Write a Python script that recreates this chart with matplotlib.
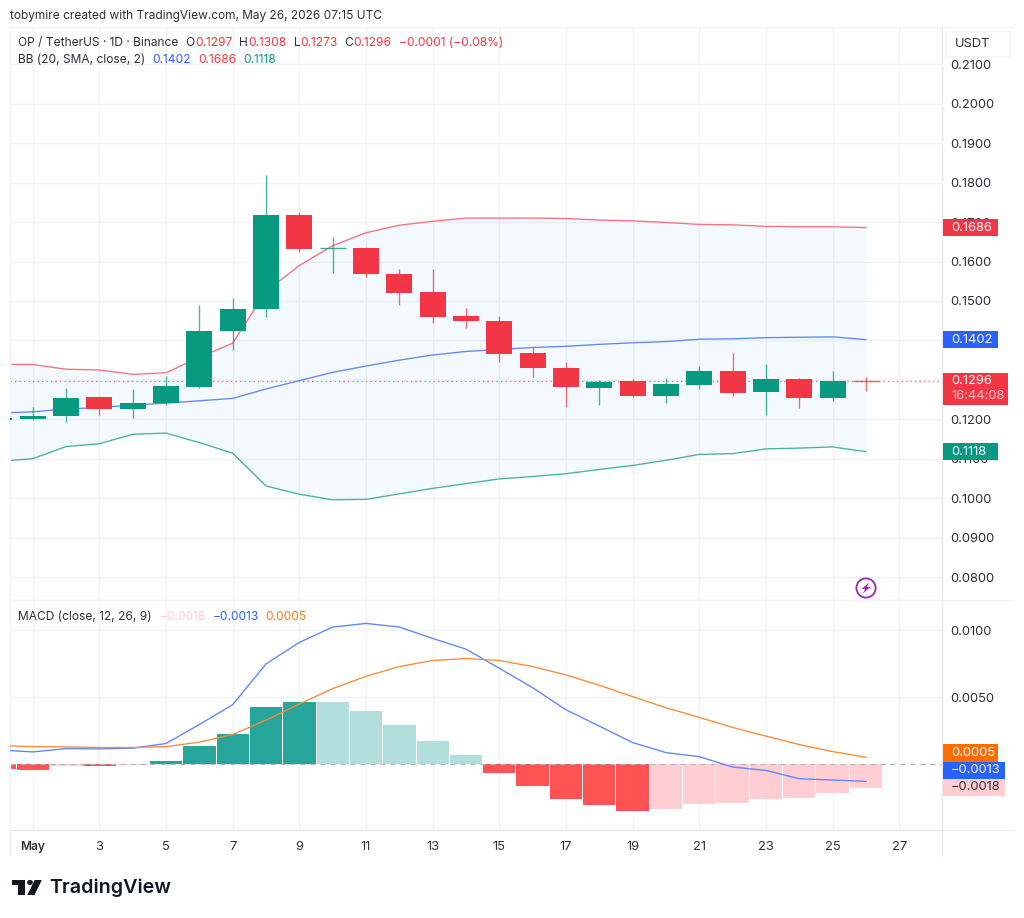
import matplotlib
matplotlib.use("Agg")
import matplotlib.pyplot as plt
from matplotlib.patches import Circle, FancyBboxPatch, Polygon, Rectangle

plt.rcParams["font.family"] = ["Inter", "DejaVu Sans"]

GREEN = "#089981"
RED = "#F23645"
BLUE = "#2962FF"
ORANGE = "#FF6D00"
GRID = "#F1F2F5"
EDGE = "#E6E8EE"
TEXT = "#2E3038"

days = list(range(0, 27))
opens = [0.1197, 0.1202, 0.1208, 0.1256, 0.1227, 0.1241, 0.1283, 0.1423, 0.1480, 0.1718,
         0.1632, 0.1634, 0.1569, 0.1522, 0.1461, 0.1448, 0.1367, 0.1330, 0.1280, 0.1296,
         0.1259, 0.1288, 0.1323, 0.1268, 0.1303, 0.1255, 0.1297]
highs = [0.1205, 0.1232, 0.1279, 0.1256, 0.1277, 0.1310, 0.1490, 0.1507, 0.1819, 0.1725,
         0.1662, 0.1636, 0.1580, 0.1580, 0.1483, 0.1462, 0.1383, 0.1345, 0.1299, 0.1301,
         0.1305, 0.1336, 0.1368, 0.1340, 0.1305, 0.1323, 0.1308]
lows = [0.1190, 0.1198, 0.1192, 0.1210, 0.1203, 0.1236, 0.1279, 0.1376, 0.1459, 0.1625,
        0.1572, 0.1561, 0.1490, 0.1443, 0.1432, 0.1346, 0.1307, 0.1230, 0.1237, 0.1257,
        0.1242, 0.1277, 0.1258, 0.1211, 0.1228, 0.1247, 0.1273]
closes = [0.1203, 0.1209, 0.1255, 0.1227, 0.1241, 0.1284, 0.1424, 0.1480, 0.1718, 0.1632,
          0.1634, 0.1568, 0.1519, 0.1460, 0.1448, 0.1366, 0.1330, 0.1282, 0.1295, 0.1259,
          0.1290, 0.1323, 0.1267, 0.1303, 0.1255, 0.1296, 0.1296]

bb_upper = [0.1339, 0.1339, 0.1327, 0.1325, 0.1314, 0.1318, 0.1357, 0.1393, 0.1524, 0.1590,
            0.1640, 0.1673, 0.1692, 0.1702, 0.1710, 0.1710, 0.1710, 0.1709, 0.1705, 0.1703,
            0.1699, 0.1694, 0.1693, 0.1689, 0.1688, 0.1688, 0.1686]
bb_basis = [0.1216, 0.1219, 0.1226, 0.1230, 0.1236, 0.1241, 0.1247, 0.1253, 0.1277, 0.1298,
            0.1319, 0.1335, 0.1350, 0.1363, 0.1372, 0.1377, 0.1382, 0.1385, 0.1390, 0.1394,
            0.1397, 0.1403, 0.1404, 0.1407, 0.1408, 0.1409, 0.1402]
bb_lower = [0.1094, 0.1100, 0.1131, 0.1138, 0.1162, 0.1165, 0.1141, 0.1114, 0.1031, 0.1010,
            0.0996, 0.0997, 0.1011, 0.1025, 0.1037, 0.1049, 0.1055, 0.1062, 0.1073, 0.1083,
            0.1096, 0.1111, 0.1113, 0.1125, 0.1127, 0.1130, 0.1118]

macd_hist = [-0.00038, -0.00045, -0.00012, -0.00018, -0.00010, 0.00023, 0.00133, 0.00225, 0.00423,
             0.00465, 0.00465, 0.00395, 0.00295, 0.00170, 0.00070, -0.00065, -0.00168, -0.00263,
             -0.00308, -0.00350, -0.00338, -0.00300, -0.00295, -0.00263, -0.00255, -0.00218, -0.00180]
macd_line = [0.00105, 0.00090, 0.00115, 0.00113, 0.00118, 0.00153, 0.00295, 0.00443, 0.00748,
             0.00908, 0.01023, 0.01050, 0.01023, 0.00938, 0.00858, 0.00715, 0.00570, 0.00405,
             0.00283, 0.00160, 0.00085, 0.00055, -0.00023, -0.00048, -0.00110, -0.00120, -0.00130]
macd_signal = [0.00138, 0.00130, 0.00128, 0.00123, 0.00123, 0.00130, 0.00163, 0.00220, 0.00328,
               0.00448, 0.00563, 0.00655, 0.00728, 0.00773, 0.00788, 0.00773, 0.00728, 0.00665,
               0.00588, 0.00503, 0.00420, 0.00348, 0.00273, 0.00208, 0.00145, 0.00093, 0.00050]

price_ticks = [0.08, 0.09, 0.10, 0.11, 0.12, 0.13, 0.14, 0.15, 0.16, 0.17, 0.18, 0.19, 0.20, 0.21]
hidden_ticks = [0.13, 0.14]  # sit fully under the value tags
macd_ticks = [0.005, 0.010]
date_ticks = list(range(1, 28, 2))
date_labels = ["May"] + [str(d) for d in date_ticks[1:]]

W, H = 1024, 918
fig = plt.figure(figsize=(W / 100, H / 100), dpi=100, facecolor="white")


def pane(left, top, right, bottom):
    return fig.add_axes([left / W, 1 - bottom / H, (right - left) / W, (bottom - top) / H])


def put(x, y, s, color=TEXT, size=9.3, **kw):
    # x, y are canvas pixels measured from the top left corner
    kw.setdefault("va", "center")
    return fig.text(x / W, 1 - y / H, s, color=color, fontsize=size, **kw)


def box(x0, y0, x1, y1, color, **kw):
    fig.add_artist(Rectangle((x0 / W, 1 - y1 / H), (x1 - x0) / W, (y1 - y0) / H,
                             transform=fig.transFigure, facecolor=color, edgecolor="none", **kw))


def price_tag(ax, value, label, color, width, txt="white", height=17):
    y = H - ax.transData.transform((0, value))[1]
    box(942.5, y - height / 2, 942.5 + width, y + height / 2, color, zorder=5)
    put(951, y, label, color=txt, zorder=6)


price = pane(10, 27, 942.3, 600)
macd = pane(10, 600, 942.3, 830)

for ax in (price, macd):
    ax.set_xlim(0.319, 28.29)
    ax.set_xticks(date_ticks)
    ax.grid(True, color=GRID, linewidth=1.0)
    ax.set_axisbelow(True)
    ax.yaxis.tick_right()
    ax.tick_params(length=0, labelsize=9.3, labelcolor=TEXT)
    ax.tick_params(axis="y", pad=5.5)
    for name, spine in ax.spines.items():
        spine.set_color(EDGE)
        spine.set_linewidth(1.0)
    ax.spines["left"].set_color(GRID)

price.set_ylim(0.07420, 0.21944)
price.set_yticks(price_ticks, ["" if p in hidden_ticks else f"{p:.4f}" for p in price_ticks])
price.tick_params(labelbottom=False)
price.spines["bottom"].set_color(GRID)
price.spines["top"].set_color(GRID)

price.fill_between(days, bb_lower, bb_upper, color="#2196F3", alpha=0.05, linewidth=0, zorder=0.8)
price.plot(days, bb_upper, color="#F7707B", linewidth=0.95, zorder=2)
price.plot(days, bb_basis, color="#5F88FF", linewidth=0.95, zorder=2)
price.plot(days, bb_lower, color="#44B49F", linewidth=0.95, zorder=2)
price.axhline(closes[-1], color=RED, linewidth=0.9, linestyle=(0, (1, 2.6)), alpha=0.75, zorder=1.5)

# candles: wick first, then a body about 26 px wide; flat bodies become a hairline
for d, o, h, l, c in zip(days, opens, highs, lows, closes):
    col = GREEN if c >= o else RED
    price.vlines(d, l, h, color=col, linewidth=0.95, alpha=0.75, zorder=3)
    if abs(c - o) < 0.0003:
        price.hlines((o + c) / 2, d - 0.39, d + 0.39, color=col, linewidth=0.95, alpha=0.8, zorder=4)
    else:
        price.add_patch(Rectangle((d - 0.39, min(o, c)), 0.78, abs(c - o), facecolor=col,
                                  edgecolor="none", zorder=4))

macd.set_ylim(-0.00493, 0.01225)
macd.set_yticks(macd_ticks, [f"{v:.4f}" for v in macd_ticks])
macd.set_xticklabels(date_labels)
macd.tick_params(axis="x", pad=8)
macd.get_xticklabels()[0].set_fontweight("semibold")
macd.get_xticklabels()[0].set_fontsize(8.6)
macd.spines["top"].set_color(GRID)

# histogram shades follow rising/falling momentum
for i, (d, v) in enumerate(zip(days, macd_hist)):
    prev = macd_hist[i - 1] if i else 0.0
    if v >= 0:
        col = "#26A69A" if v > prev else "#B2DFDB"
    else:
        col = "#FF5252" if v < prev else "#FFCDD2"
    macd.bar(d, v, width=0.97, color=col, linewidth=0, zorder=2)
macd.axhline(0, color="#B2B5BE", linewidth=0.9, linestyle=(0, (4, 4)), zorder=2.5)
macd.plot(days, macd_line, color="#5B84FF", linewidth=0.95, zorder=3)
macd.plot(days, macd_signal, color="#FF8A33", linewidth=0.95, zorder=3)

# frame around the axis column and time scale
box(10, 27, 1014, 27.8, GRID, zorder=1)
box(942, 27, 943, 857, EDGE, zorder=1)
box(1013.5, 27, 1014.3, 857, GRID, zorder=1)
box(942, 600, 1014, 601, GRID, zorder=1)
box(942, 830, 1014, 830.9, EDGE, zorder=1)
box(10, 856.5, 1014, 857.3, GRID, zorder=1)
box(10, 830, 10.8, 857, GRID, zorder=1)

# price scale tags
box(943, 27.9, 1013, 60, "white", zorder=4)
fig.add_artist(FancyBboxPatch((946 / W, 1 - 57 / H), 64 / W, 25.5 / H, transform=fig.transFigure,
                              boxstyle="round,pad=0", facecolor="white", edgecolor="#F0F3FA",
                              linewidth=0.9, zorder=4.5))
put(955, 44, "USDT", zorder=6)

price_tag(price, bb_upper[-1], f"{bb_upper[-1]:.4f}", RED, 55.5)
price_tag(price, bb_basis[-1], f"{bb_basis[-1]:.4f}", BLUE, 55.5)
price_tag(price, bb_lower[-1], f"{bb_lower[-1]:.4f}", GREEN, 55.5)

last_y = H - price.transData.transform((0, closes[-1]))[1]
box(942.5, last_y - 8, 1008, last_y + 23.5, RED, zorder=5)
put(951, last_y, f"{closes[-1]:.4f}", color="white", zorder=6)
put(951, last_y + 15, "16:44:08", color="#FFC4C9", zorder=6)

zero_y = H - macd.transData.transform((0, 0))[1]
box(942.5, zero_y - 19.5, 998, zero_y - 2, ORANGE, zorder=5)
put(951, zero_y - 11, f"{macd_signal[-1]:.4f}", color="white", zorder=6)
box(942.5, zero_y - 2, 1005, zero_y + 15, BLUE, zorder=5)
put(951, zero_y + 6.5, f"\u2212{abs(macd_line[-1]):.4f}", color="white", zorder=6)
box(942.5, zero_y + 15.5, 1005, zero_y + 32, "#FFCDD2", zorder=5)
put(951, zero_y + 23.5, f"\u2212{abs(macd_hist[-1]):.4f}", zorder=6)

# header and legends
LEG = 8.6
put(10, 16, "tobymire created with TradingView.com, May 26, 2026 07:15 UTC", size=8.55)

put(18.3, 43, "OP / TetherUS \u00b7 1D \u00b7 Binance", size=LEG)
for x, s in [(185.3, "O"), (239, "H"), (293.7, "L"), (344.7, "C")]:
    put(x, 43, s, size=LEG)
for x, s in [(195, "0.1297"), (248.3, "0.1308"), (300.7, "0.1273"), (353.3, "0.1296"),
             (398.7, "\u22120.0001 (\u22120.08%)")]:
    put(x, 43, s, color=RED, size=LEG)

put(18.3, 60, "BB (20, SMA, close, 2)", size=LEG)
put(152.7, 60, f"{bb_basis[-1]:.4f}", color=BLUE, size=LEG)
put(198, 60, f"{bb_upper[-1]:.4f}", color=RED, size=LEG)
put(243.7, 60, f"{bb_lower[-1]:.4f}", color=GREEN, size=LEG)

put(18.3, 617.5, "MACD (close, 12, 26, 9)", size=LEG)
put(159.3, 617.5, f"\u2212{abs(macd_hist[-1]):.4f}", color="#FFCDD2", size=LEG)
put(212.3, 617.5, f"\u2212{abs(macd_line[-1]):.4f}", color=BLUE, size=LEG)
put(265.3, 617.5, f"{macd_signal[-1]:.4f}", color="#F57C1F", size=LEG)


def pts(*xy):
    return [(x / W, 1 - y / H) for x, y in xy]


# lightning badge
badge = fig.add_axes([855 / W, 1 - 599 / H, 22 / W, 22 / H])
badge.set_xlim(-11, 11)
badge.set_ylim(-11, 11)
badge.axis("off")
badge.patch.set_alpha(0)
badge.add_patch(Circle((0, 0), 9.6, facecolor="white", edgecolor="#9C27B0", linewidth=1.3))
badge.add_patch(Polygon([(3, 5.6), (-4.6, -1.2), (-0.8, -1.2), (-3, -5.6), (4.6, 1.2), (0.8, 1.2)],
                        facecolor="#9C27B0", edgecolor="none"))

# TradingView wordmark
fig.add_artist(Polygon(pts((12, 880), (25, 880), (25, 895), (17.5, 895), (17.5, 885), (12, 885)),
                       transform=fig.transFigure, facecolor="#131722", edgecolor="none"))
fig.add_artist(Circle((30 / W, 1 - 882.5 / H), 0.0028, transform=fig.transFigure,
                      facecolor="#131722", edgecolor="none"))
fig.add_artist(Polygon(pts((34.7, 880), (41.8, 880), (34.5, 895), (27.3, 895)),
                       transform=fig.transFigure, facecolor="#131722", edgecolor="none"))
put(49, 888, "TradingView", color="#131722", size=14.2, fontweight="semibold")

fig.savefig("out.png", dpi=100, facecolor="white")
